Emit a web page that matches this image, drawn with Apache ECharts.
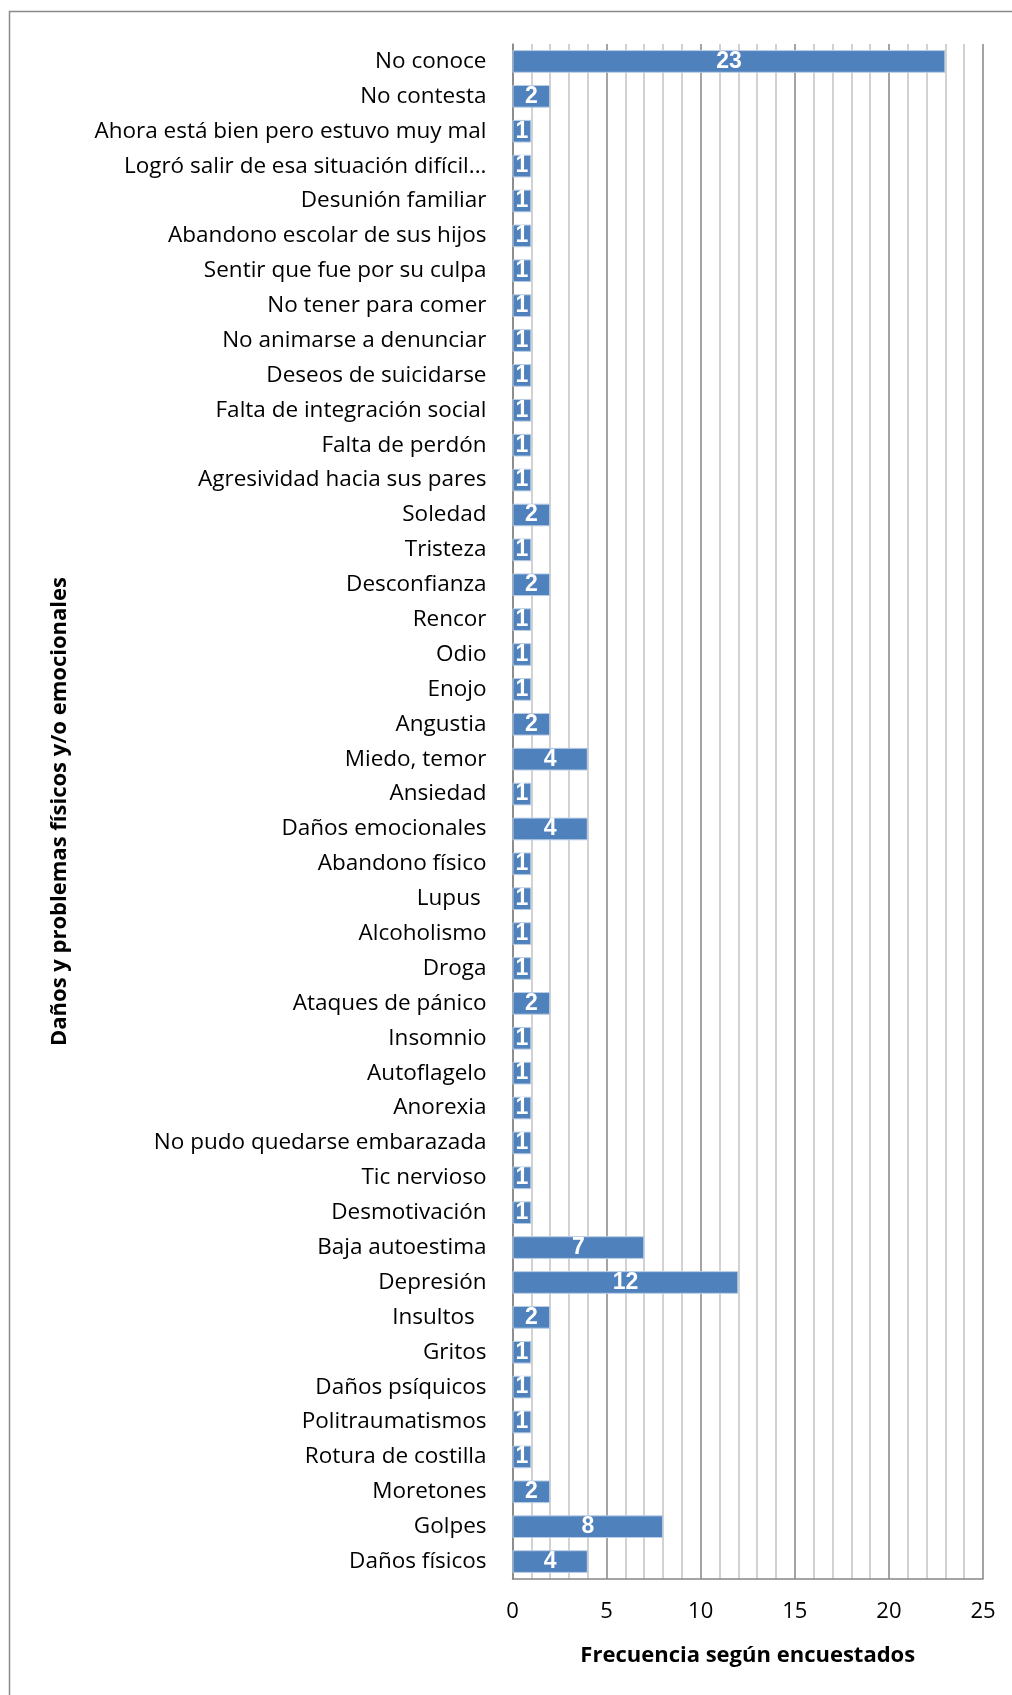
<!DOCTYPE html>
<html><head><meta charset="utf-8">
<script src="https://cdn.jsdelivr.net/npm/echarts@6/dist/echarts.min.js"></script>
<style>html,body{margin:0;padding:0;background:#fff}#c{width:1012px;height:1695px}</style>
</head><body><div id="c"></div>
<script>
const categories = ["No conoce","No contesta","Ahora está bien pero estuvo muy mal","Logró salir de esa situación difícil...","Desunión familiar","Abandono escolar de sus hijos","Sentir que fue por su culpa","No tener para comer","No animarse a denunciar","Deseos de suicidarse","Falta de integración social","Falta de perdón","Agresividad hacia sus pares","Soledad","Tristeza","Desconfianza","Rencor","Odio","Enojo","Angustia","Miedo, temor","Ansiedad","Daños emocionales","Abandono físico","Lupus ","Alcoholismo","Droga","Ataques de pánico","Insomnio","Autoflagelo","Anorexia","No pudo quedarse embarazada","Tic nervioso","Desmotivación","Baja autoestima","Depresión","Insultos  ","Gritos","Daños psíquicos","Politraumatismos","Rotura de costilla","Moretones","Golpes","Daños físicos"];
const values = [23,2,1,1,1,1,1,1,1,1,1,1,1,2,1,2,1,1,1,2,4,1,4,1,1,1,1,2,1,1,1,1,1,1,7,12,2,1,1,1,1,2,8,4];
const xTicks = [0,5,10,15,20,25];
const xTitle = "Frecuencia según encuestados";
const yTitle = "Daños y problemas físicos y/o emocionales";

const chart = echarts.init(document.getElementById('c'), null, {renderer:'canvas'});
chart.setOption({
  animation:false,
  backgroundColor:'#fff',
  graphic:[{type:'rect',shape:{x:9.5,y:11.5,width:1100,height:1800},style:{fill:'none',stroke:'#8a8a8a',lineWidth:1.5}}],
  grid:{left:512.5,right:29,top:44,bottom:116,containLabel:false},
  xAxis:{type:'value',min:xTicks[0],max:xTicks[xTicks.length-1],interval:5,
    axisLine:{show:true,lineStyle:{color:'#868686',width:1.5}},
    axisTick:{show:false},
    axisLabel:{color:'#000',fontSize:22,fontFamily:'Open Sans',margin:22},
    splitLine:{show:true,lineStyle:{color:'#868686',width:1.5}},
    minorTick:{show:false,splitNumber:5},
    minorSplitLine:{show:true,lineStyle:{color:'#c3c3c3',width:1.5}},
    name:xTitle,nameLocation:'middle',nameGap:66,
    nameTextStyle:{color:'#000',fontSize:22,fontWeight:'bold',fontFamily:'Open Sans'}
  },
  yAxis:{type:'category',data:categories,inverse:true,
    axisLine:{show:true,lineStyle:{color:'#868686',width:1.5}},
    axisTick:{show:false},
    axisLabel:{color:'#000',fontSize:22.5,fontFamily:'Open Sans',margin:26,interval:0,padding:[4,0,0,0]},
    name:yTitle,nameLocation:'middle',nameGap:442,nameRotate:90,
    nameTextStyle:{color:'#000',fontSize:22,fontWeight:'bold',fontFamily:'Open Sans'}
  },
  series:[{type:'bar',data:values,barWidth:'65%',
    itemStyle:{color:'#4f81bd',borderColor:'#b9cde5',borderWidth:1},
    label:{show:true,position:'inside',color:'#fff',fontSize:23,fontWeight:'bold',fontFamily:'Liberation Sans',padding:[3,0,0,0]}
  }]
});
</script></body></html>
